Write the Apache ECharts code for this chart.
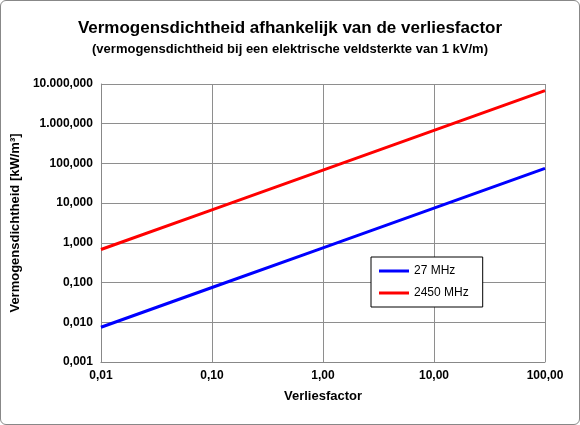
<!DOCTYPE html>
<html><head><meta charset="utf-8">
<script src="https://cdn.jsdelivr.net/npm/echarts@6/dist/echarts.min.js"></script>
<style>html,body{margin:0;padding:0;background:#fff}#c{width:578px;height:423px;border:1px solid #888;border-radius:6px}</style>
</head><body><div id="c"></div>
<script>
var verliesfactor = [0.01, 0.1, 1, 10, 100];
var mhz27 = [0.0075, 0.075, 0.75, 7.5, 75];
var mhz2450 = [0.68, 6.8, 68, 680, 6800];

function nl(v, d) {
    var s = v.toFixed(d).split('.');
    s[0] = s[0].replace(/\B(?=(\d{3})+(?!\d))/g, '.');
    return s.join(',');
}
function pairs(xs, ys) {
    return xs.map(function (x, i) { return [x, ys[i]]; });
}

var chart = echarts.init(document.getElementById('c'));
chart.setOption({
    animation: false,
    textStyle: { fontFamily: 'Liberation Sans, Arial' },
    title: {
        text: 'Vermogensdichtheid afhankelijk van de verliesfactor',
        subtext: '(vermogensdichtheid bij een elektrische veldsterkte van 1 kV/m)',
        left: 'center', top: 14, itemGap: 6,
        textStyle: { fontSize: 17, fontWeight: 'bold', color: '#000' },
        subtextStyle: { fontSize: 13, fontWeight: 'bold', color: '#000' }
    },
    grid: { left: 99, right: 34, top: 83, bottom: 62 },
    legend: {
        orient: 'vertical', left: 370, top: 256,
        backgroundColor: '#fff', borderColor: '#000', borderWidth: 1,
        padding: [8, 14, 8, 8], itemGap: 10, itemWidth: 30, itemHeight: 3,
        icon: 'rect',
        textStyle: { fontSize: 12, color: '#000' },
        data: ['27 MHz', '2450 MHz']
    },
    xAxis: {
        type: 'log', logBase: 10, min: 0.01, max: 100,
        name: 'Verliesfactor', nameLocation: 'middle', nameGap: 28,
        nameTextStyle: { fontSize: 13, fontWeight: 'bold', color: '#000' },
        axisLine: { lineStyle: { color: '#888' } },
        axisTick: { show: false },
        axisLabel: { color: '#000', fontWeight: 'bold', fontSize: 12, formatter: function (v) { return nl(v, 2); } },
        splitLine: { show: true, lineStyle: { color: '#8e8e8e' } },
        minorTick: { show: false }
    },
    yAxis: {
        type: 'log', logBase: 10, min: 0.001, max: 10000,
        name: 'Vermogensdichtheid [kW/m³]', nameLocation: 'middle', nameGap: 72,
        nameTextStyle: { fontSize: 13, fontWeight: 'bold', color: '#000' },
        axisLine: { show: true, lineStyle: { color: '#888' } },
        axisTick: { show: false },
        axisLabel: { color: '#000', fontWeight: 'bold', fontSize: 12, formatter: function (v) { return nl(v, 3); } },
        splitLine: { show: true, lineStyle: { color: '#8e8e8e' } }
    },
    series: [
        { name: '27 MHz', type: 'line', showSymbol: false, data: pairs(verliesfactor, mhz27),
          lineStyle: { color: '#0000ff', width: 3 }, itemStyle: { color: '#0000ff' } },
        { name: '2450 MHz', type: 'line', showSymbol: false, data: pairs(verliesfactor, mhz2450),
          lineStyle: { color: '#ff0000', width: 3 }, itemStyle: { color: '#ff0000' } }
    ]
});
</script></body></html>
